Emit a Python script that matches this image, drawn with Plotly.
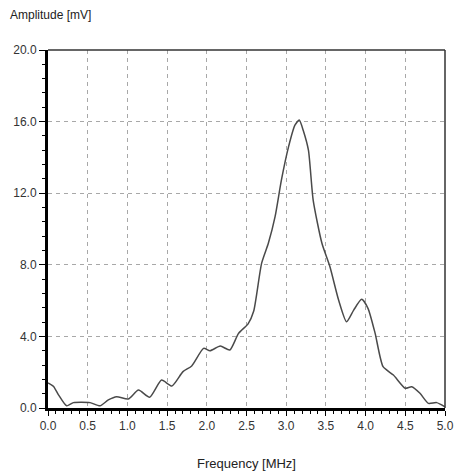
import plotly.graph_objects as go

freq_mhz = [0.0, 0.07, 0.13, 0.235, 0.32, 0.53, 0.655, 0.76, 0.865, 1.01, 1.14, 1.28,
            1.43, 1.56, 1.70, 1.81, 1.96, 2.04, 2.17, 2.29, 2.40, 2.52, 2.59, 2.69,
            2.775, 2.86, 2.94, 3.03, 3.11, 3.165, 3.215, 3.28, 3.34, 3.45, 3.55, 3.66,
            3.76, 3.85, 3.95, 4.03, 4.12, 4.22, 4.35, 4.50, 4.58, 4.685, 4.79, 4.895, 5.0]
amplitude_mv = [1.4, 1.2, 0.75, 0.12, 0.3, 0.3, 0.12, 0.45, 0.63, 0.5, 1.0, 0.6,
                1.56, 1.23, 2.03, 2.35, 3.33, 3.2, 3.46, 3.24, 4.17, 4.7, 5.4, 8.08,
                9.2, 10.69, 12.74, 14.6, 15.8, 16.09, 15.5, 14.4, 11.6, 9.2, 7.9, 6.03,
                4.82, 5.47, 6.07, 5.57, 4.17, 2.31, 1.84, 1.1, 1.19, 0.82, 0.26, 0.3, 0.07]

x_ticks = [0.0, 0.5, 1.0, 1.5, 2.0, 2.5, 3.0, 3.5, 4.0, 4.5, 5.0]
y_ticks = [0.0, 4.0, 8.0, 12.0, 16.0, 20.0]

fig = go.Figure()
fig.add_trace(go.Scatter(
    x=freq_mhz, y=amplitude_mv, mode="lines",
    line=dict(color="#4a4a4a", width=1.5, shape="spline", smoothing=0.6),
    hoverinfo="skip", showlegend=False,
))

font = "Liberation Sans, Arial, sans-serif"
fig.update_layout(
    width=457, height=475,
    margin=dict(l=48, r=12, t=50, b=67),
    paper_bgcolor="white", plot_bgcolor="white",
    font=dict(family=font, size=12, color="#333333"),
    xaxis=dict(
        range=[0, 5.0], tickvals=x_ticks, ticktext=[f"{v:.1f}" for v in x_ticks],
        showgrid=True, gridcolor="#a8a8a8", griddash="4px,4px", gridwidth=1,
        showline=True, linecolor="black", linewidth=2.5,
        ticks="outside", ticklen=5, tickcolor="black", tickwidth=1,
        minor=dict(dtick=0.1, ticks="outside", ticklen=3, tickcolor="black", showgrid=False),
        zeroline=False, automargin=False, tickfont=dict(size=12, color="#333333"),
    ),
    yaxis=dict(
        range=[0, 20.0], tickvals=y_ticks, ticktext=[f"{v:.1f}" for v in y_ticks],
        showgrid=True, gridcolor="#a8a8a8", griddash="4px,4px", gridwidth=1,
        showline=True, linecolor="black", linewidth=3,
        ticks="outside", ticklen=6, tickcolor="black", tickwidth=1,
        minor=dict(dtick=0.8, ticks="outside", ticklen=3, tickcolor="black", showgrid=False),
        zeroline=False, automargin=False, tickfont=dict(size=12, color="#333333"),
    ),
    shapes=[
        dict(type="line", xref="paper", yref="paper", x0=0, x1=1, y0=1, y1=1,
             line=dict(color="#333333", width=1.5)),
        dict(type="line", xref="paper", yref="paper", x0=1, x1=1, y0=0, y1=1,
             line=dict(color="#333333", width=1.5)),
    ],
    annotations=[
        dict(text="Amplitude [mV]", xref="paper", yref="paper", x=0, y=1,
             xshift=-40, yshift=26, xanchor="left", yanchor="bottom", showarrow=False,
             font=dict(size=12, color="#222222")),
        dict(text="Frequency [MHz]", xref="paper", yref="paper", x=0.5, y=0,
             yshift=-46, xanchor="center", yanchor="top", showarrow=False,
             font=dict(size=13, color="#222222")),
    ],
)

fig.write_html("out.html")
